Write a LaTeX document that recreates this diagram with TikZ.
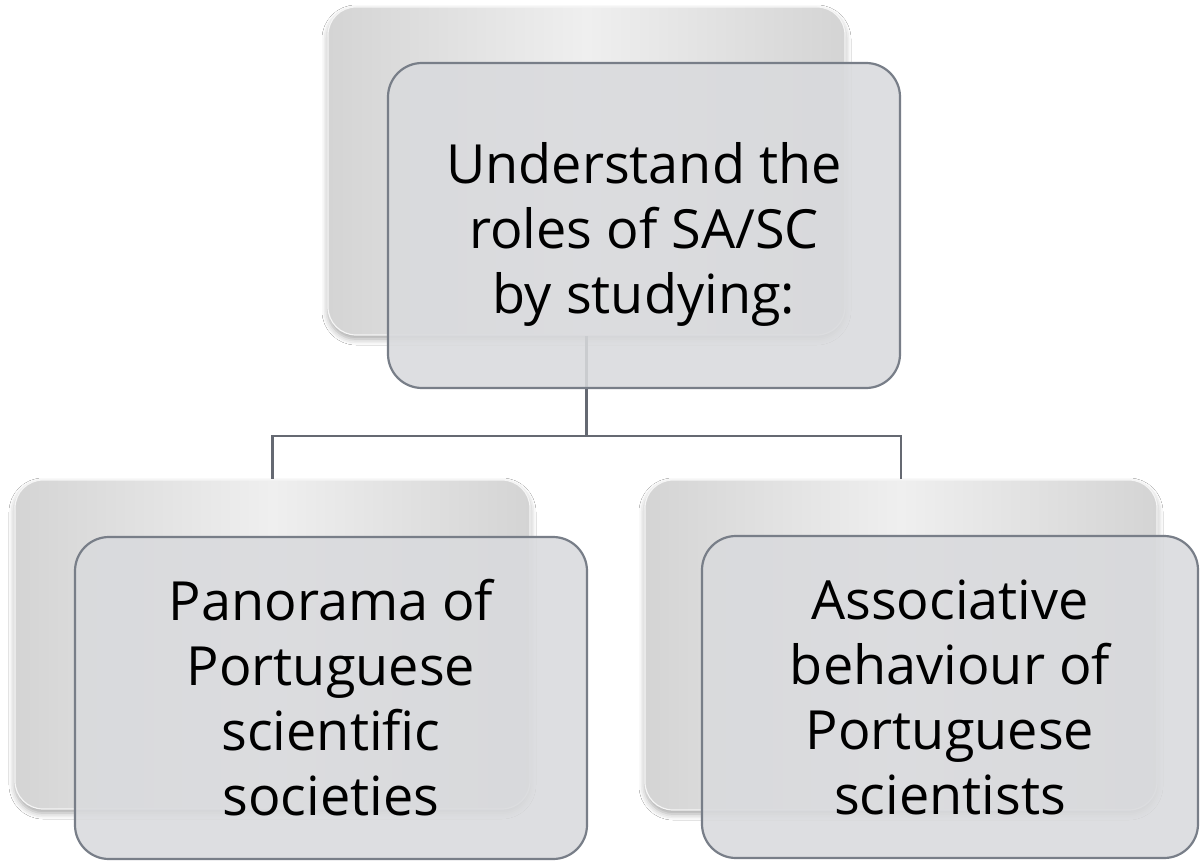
\documentclass[tikz,border=0pt]{standalone}
\usepackage{fontspec}
\setmainfont{Open Sans}
\usetikzlibrary{shadows.blur}
\definecolor{backlight}{HTML}{EFEFEF}
\definecolor{backdark}{HTML}{D4D4D4}
\definecolor{frontfill}{HTML}{D9DADD}
\definecolor{frontline}{HTML}{787E88}
\definecolor{linkcol}{HTML}{656972}
\tikzset{
  backbox/.style={rounded corners=28pt, inner sep=0pt, left color=backdark, right color=backdark, middle color=backlight,
    draw=white!92!gray, line width=1.2pt,
    blur shadow={shadow xshift=0pt, shadow yshift=-4pt, shadow blur radius=6pt, shadow opacity=35}},
  frontbox/.style={rounded corners=34pt, fill=frontfill, fill opacity=0.88, text opacity=1, draw=frontline,
    draw opacity=1, line width=2.2pt, align=center, inner sep=0pt, text=black,
    font=\fontsize{54}{65}\selectfont},
  boxtext/.style={align=center, inner sep=0pt, text=black, font=\fontsize{54}{65}\selectfont},
  link/.style={draw=linkcol, line width=2.4pt}
}
\begin{document}
\begin{tikzpicture}[x=1pt,y=-1pt]
\useasboundingbox[fill=white] (0,0) rectangle (1200,861);
% back boxes
\node[backbox, minimum width=517pt, minimum height=328pt] (tb) at (586.5,171) {};
\node[backbox, minimum width=515pt, minimum height=329pt] (lb) at (272.5,644.5) {};
\node[backbox, minimum width=512pt, minimum height=330pt] (rb) at (901,645) {};
% connectors
\coordinate (j) at (586.5,436);
\draw[link] (tb.south) -- (j);
\draw[link] (j) -| (lb.north);
\draw[link] (j) -| (rb.north);
% front boxes
\node[frontbox, minimum width=512pt, minimum height=325pt] (tf) at (644,225.5) {};
\node[boxtext] (tft) at (644,234) {Understand the\\roles of SA/SC\\by studying:};
\node[frontbox, minimum width=512pt, minimum height=322pt] (lf) at (331,698)
  {Panorama of\\Portuguese\\scientific\\societies};
\node[frontbox, minimum width=496pt, minimum height=322pt] (rf) at (950,697)
  {Associative\\behaviour of\\Portuguese\\scientists};
\end{tikzpicture}
\end{document}
